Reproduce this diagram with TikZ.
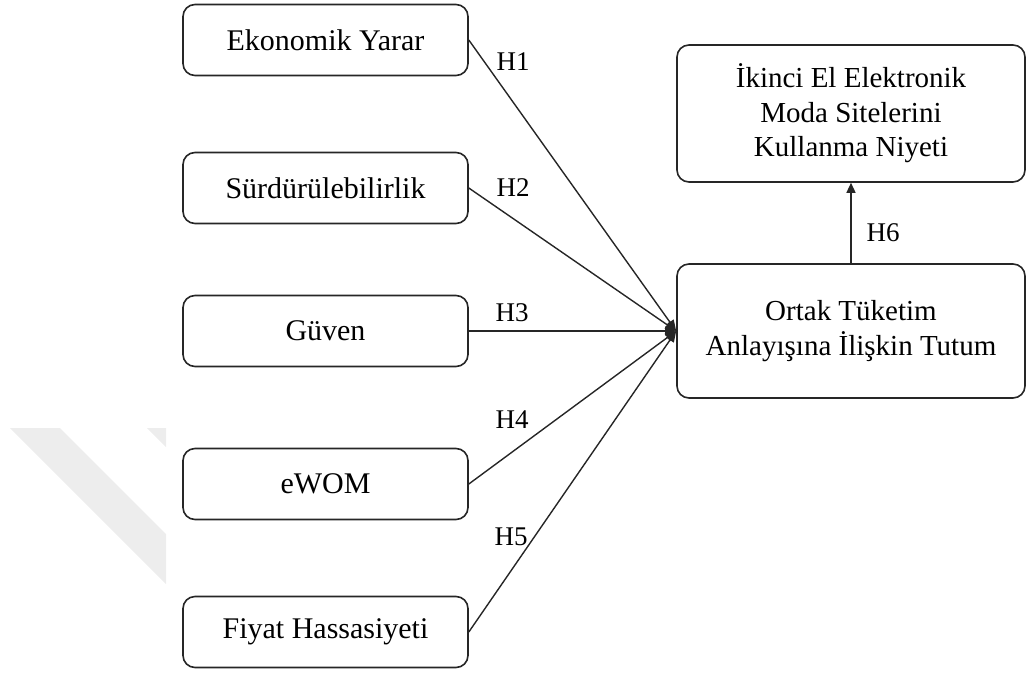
\documentclass[tikz,border=0pt]{standalone}
\usepackage{fontspec}
\setmainfont{Liberation Serif}
\usetikzlibrary{arrows.meta}
\tikzset{
  box/.style={draw=black!85, line width=1.6pt, rounded corners=12pt, fill=white,
    inner sep=0pt, align=center},
  leftbox/.style={box, minimum width=285pt, minimum height=71pt, font=\fontsize{30}{35}\selectfont},
  rightbox/.style={box, minimum width=348pt, font=\fontsize{29}{34.5}\selectfont},
  conn/.style={draw=black!85, line width=1.4pt, -{Triangle[length=11pt,width=9pt]}},
  hlabel/.style={font=\fontsize{27}{32}\selectfont, inner sep=0pt}
}
\begin{document}
\begin{tikzpicture}[x=1pt,y=-1pt]
\useasboundingbox (0,0) rectangle (1027,675);
% faint watermark
\fill[black!7] (10,428) -- (60,428) -- (166,534) -- (166,584) -- cycle;
\fill[black!7] (147,428) -- (166,428) -- (166,447) -- cycle;

\node[leftbox] (eko) at (325.5,40) {Ekonomik Yarar};
\node[leftbox] (sur) at (325.5,188) {Sürdürülebilirlik};
\node[leftbox] (guv) at (325.5,331) {Güven};
\node[leftbox] (ewom) at (325.5,484) {eWOM};
\node[leftbox] (fiy) at (325.5,632) {Fiyat Hassasiyeti};

\node[rightbox, minimum height=137pt] (iki) at (851,113.5) {İkinci El Elektronik\\Moda Sitelerini\\Kullanma Niyeti};
\node[rightbox, minimum height=134pt] (ort) at (851,331) {Ortak Tüketim\\Anlayışına İlişkin Tutum};

\draw[conn] (eko.east) -- (ort.west);
\draw[conn] (sur.east) -- (ort.west);
\draw[conn] (guv.east) -- (ort.west);
\draw[conn] (ewom.east) -- (ort.west);
\draw[conn] (fiy.east) -- (ort.west);
\draw[draw=black!85, line width=1.4pt, -{Triangle[length=10pt,width=9pt]}] (ort.north) -- (iki.south);

\node[hlabel] (h1) at (513,62) {H1};
\node[hlabel] (h2) at (513,188) {H2};
\node[hlabel] (h3) at (512,313) {H3};
\node[hlabel] (h4) at (512,420) {H4};
\node[hlabel] (h5) at (511,537) {H5};
\node[hlabel] (h6) at (883,233) {H6};
\end{tikzpicture}
\end{document}
